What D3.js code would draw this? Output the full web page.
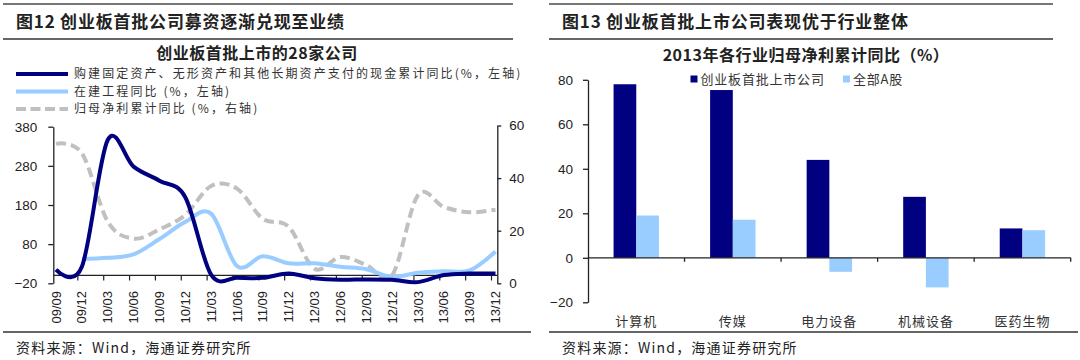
<!DOCTYPE html>
<html><head><meta charset="utf-8">
<script src="https://cdn.jsdelivr.net/npm/d3@7/dist/d3.min.js"></script>
<style>body{margin:0;background:#fff;} svg{display:block}</style>
</head><body><svg id="c" width="1080" height="360"></svg>
<script>
// ---------- data: left chart ----------
const quarters = ["09/09","09/12","10/03","10/06","10/09","10/12","11/03","11/06","11/09","11/12","12/03","12/06","12/09","12/12","13/03","13/06","13/09","13/12"];
const capexYoY  = [15, 22, 346, 278, 242, 200, 2, -6, -6, 5, -7, -11, -10, -11, -17, 1, 5, 5];
const cipYoY    = [null, 42, 45, 54, 93, 137, 158, 24, 49, 31, 31, 22, 16, -4, 7, 11, 13, 61];
const profitYoY = [53, 49.5, 23.5, 17, 20.5, 26, 37, 36, 24.5, 21.5, 5.5, 10, 7, 3, 33.5, 29, 27, 28];
const leftTicks  = [-20, 80, 180, 280, 380];
const rightTicks = [0, 20, 40, 60];
const lineLegend = ["购建固定资产、无形资产和其他长期资产支付的现金累计同比(%，左轴)", "在建工程同比 (%，左轴)", "归母净利累计同比 (%，右轴)"];

// ---------- data: right chart ----------
const industries   = ["计算机","传媒","电力设备","机械设备","医药生物"];
const chinextFirst = [78, 75.4, 44, 27.4, 13.2];
const allAShares   = [19, 17.1, -6.3, -13.3, 12.4];
const barTicks     = [-20, 0, 20, 40, 60, 80];
const barSeries    = ["创业板首批上市公司", "全部A股"];

const NAVY = "#000080", LIGHT = "#99CCFF", GRAY = "#C0C0C0", INK = "#222";
const CJK = "'Noto Sans CJK SC','Noto Sans',sans-serif";
const NUM = "'Liberation Sans',Arial,sans-serif";

const svg = d3.select("#c");

// ---------- frames, headers, footers ----------
function frame(x0, x1, x1b, title) {
  svg.append("line").attr("x1", x0).attr("x2", x1).attr("y1", 4).attr("y2", 4).attr("stroke", "#777").attr("stroke-width", 2);
  svg.append("line").attr("x1", x0).attr("x2", x1).attr("y1", 39).attr("y2", 39).attr("stroke", "#333").attr("stroke-width", 1.3);
  svg.append("line").attr("x1", x0).attr("x2", x1b).attr("y1", 332).attr("y2", 332).attr("stroke", "#333").attr("stroke-width", 1.3);
  svg.append("text").attr("x", x0 + 13).attr("y", 22).attr("dy", "0.35em")
    .style("font-family", CJK).style("font-size", "17px").style("font-weight", 700)
    .style("letter-spacing", "0.8px").attr("fill", INK).text(title);
  svg.append("text").attr("x", x0 + 13).attr("y", 348).attr("dy", "0.35em")
    .style("font-family", CJK).style("font-size", "14px").style("letter-spacing", "1.2px")
    .attr("fill", INK).text("资料来源：Wind，海通证券研究所");
}
frame(3, 513, 531, "图12 创业板首批公司募资逐渐兑现至业绩");
frame(549, 1053, 1078, "图13 创业板首批上市公司表现优于行业整体");

// ---------- left chart ----------
const L = svg.append("g");
const x = d3.scalePoint().domain(quarters).range([56, 495.5]);
const yL = d3.scaleLinear().domain([-20, 380]).range([283.3, 126.7]);
const yR = d3.scaleLinear().domain([0, 60]).range([283.3, 125.5]);

L.append("text").attr("x", 257).attr("y", 53).attr("dy", "0.35em").attr("text-anchor", "middle")
  .style("font-family", CJK).style("font-size", "16px").style("font-weight", 700)
  .style("letter-spacing", "0.5px").attr("fill", INK).text("创业板首批上市的28家公司");

// legend
const legY = [74, 91.5, 109];
const legStyles = [
  {c: NAVY, w: 4, dash: null},
  {c: LIGHT, w: 4, dash: null},
  {c: GRAY, w: 4, dash: "10,4.5"}
];
lineLegend.forEach((t, i) => {
  const s = legStyles[i];
  L.append("line").attr("x1", 16).attr("x2", 68).attr("y1", legY[i]).attr("y2", legY[i])
    .attr("stroke", s.c).attr("stroke-width", s.w).attr("stroke-dasharray", s.dash);
  L.append("text").attr("x", 74).attr("y", legY[i]).attr("dy", "0.35em")
    .style("font-family", CJK).style("font-size", "12px").style("letter-spacing", "2.1px")
    .attr("fill", "#333").text(t);
});

// axes
const axL = L.append("g").attr("transform", "translate(53.3,0)")
  .call(d3.axisLeft(yL).tickValues(leftTicks).tickSize(5).tickSizeOuter(0).tickPadding(11));
const axR = L.append("g").attr("transform", "translate(497.3,0)")
  .call(d3.axisRight(yR).tickValues(rightTicks).tickSize(4).tickSizeOuter(0).tickPadding(8));
[axL, axR].forEach(a => {
  a.select(".domain").attr("stroke", INK).attr("stroke-width", 1.3);
  a.selectAll(".tick line").attr("stroke", INK).attr("stroke-width", 1.3);
  a.selectAll(".tick text").style("font-family", NUM).style("font-size", "13.5px").attr("fill", INK);
});
// x axis at zero
const y0 = yL(0);
L.append("line").attr("x1", 53.3).attr("x2", 497.3).attr("y1", y0).attr("y2", y0)
  .attr("stroke", INK).attr("stroke-width", 1.3);
L.selectAll(".xt").data(quarters.slice(1)).join("line").attr("class", "xt")
  .attr("x1", d => x(d) - 4).attr("x2", d => x(d) - 4).attr("y1", y0).attr("y2", y0 + 5)
  .attr("stroke", INK).attr("stroke-width", 1.2);
L.selectAll(".xl").data(quarters).join("text").attr("class", "xl")
  .attr("transform", d => `translate(${x(d)},291) rotate(-90)`)
  .attr("text-anchor", "end").attr("dy", "0.35em")
  .style("font-family", NUM).style("font-size", "13px").attr("fill", INK).text(d => d);

// lines
const curve = d3.curveCardinal.tension(0);
const lineGen = (yS) => d3.line().defined(d => d.v != null).x(d => x(d.q)).y(d => yS(d.v)).curve(curve);
const zip = arr => quarters.map((q, i) => ({q, v: arr[i]}));
L.append("path").datum(zip(profitYoY)).attr("d", lineGen(yR)).attr("fill", "none")
  .attr("stroke", GRAY).attr("stroke-width", 4).attr("stroke-dasharray", "10,5");
L.append("path").datum(zip(cipYoY)).attr("d", lineGen(yL)).attr("fill", "none")
  .attr("stroke", LIGHT).attr("stroke-width", 4);
L.append("path").datum(zip(capexYoY)).attr("d", lineGen(yL)).attr("fill", "none")
  .attr("stroke", NAVY).attr("stroke-width", 4);

// ---------- right chart ----------
const R = svg.append("g");
const xB = d3.scaleBand().domain(industries).range([588, 1070.7]);
const xS = d3.scaleBand().domain(barSeries).range([0, 45.4]);
const yB = d3.scaleLinear().domain([-20, 80]).range([302.3, 79.8]);

R.append("text").attr("x", 806).attr("y", 55).attr("dy", "0.35em").attr("text-anchor", "middle")
  .style("font-family", CJK).style("font-size", "16px").style("font-weight", 700)
  .style("letter-spacing", "0.5px").attr("fill", INK).text("2013年各行业归母净利累计同比（%）");

const barData = industries.flatMap((ind, i) => [
  {ind, s: barSeries[0], v: chinextFirst[i], c: NAVY},
  {ind, s: barSeries[1], v: allAShares[i], c: LIGHT}
]);
R.selectAll(".bar").data(barData).join("rect").attr("class", "bar")
  .attr("x", d => xB(d.ind) + xB.bandwidth() / 2 - 22.7 + xS(d.s))
  .attr("width", xS.bandwidth())
  .attr("y", d => Math.min(yB(d.v), yB(0)))
  .attr("height", d => Math.abs(yB(d.v) - yB(0)))
  .attr("fill", d => d.c);

const axB = R.append("g").attr("transform", "translate(588,0)")
  .call(d3.axisLeft(yB).tickValues(barTicks).tickSize(5).tickSizeOuter(0).tickPadding(10));
axB.select(".domain").attr("stroke", INK).attr("stroke-width", 1.3);
axB.selectAll(".tick line").attr("stroke", INK).attr("stroke-width", 1.3);
axB.selectAll(".tick text").style("font-family", NUM).style("font-size", "13.5px").attr("fill", INK);

const yb0 = yB(0);
R.append("line").attr("x1", 588).attr("x2", 1070.7).attr("y1", yb0).attr("y2", yb0)
  .attr("stroke", INK).attr("stroke-width", 1.3);
R.selectAll(".bt").data(industries).join("line").attr("class", "bt")
  .attr("x1", d => xB(d) + xB.bandwidth()).attr("x2", d => xB(d) + xB.bandwidth())
  .attr("y1", yb0).attr("y2", yb0 + 4).attr("stroke", INK).attr("stroke-width", 1.3);
R.selectAll(".bl").data(industries).join("text").attr("class", "bl")
  .attr("x", d => xB(d) + xB.bandwidth() / 2).attr("y", 321.5).attr("dy", "0.35em")
  .attr("text-anchor", "middle").style("font-family", CJK).style("font-size", "13px")
  .style("letter-spacing", "1px").attr("fill", "#333").text(d => d);

// legend
const legX = [690.5, 843];
barSeries.forEach((s, i) => {
  R.append("rect").attr("x", legX[i]).attr("y", 75.5).attr("width", 7).attr("height", 7)
    .attr("fill", i === 0 ? NAVY : LIGHT);
  R.append("text").attr("x", legX[i] + 10).attr("y", 79).attr("dy", "0.35em")
    .style("font-family", CJK).style("font-size", "13px").style("letter-spacing", "0.8px")
    .attr("fill", "#333").text(s);
});
</script></body></html>
